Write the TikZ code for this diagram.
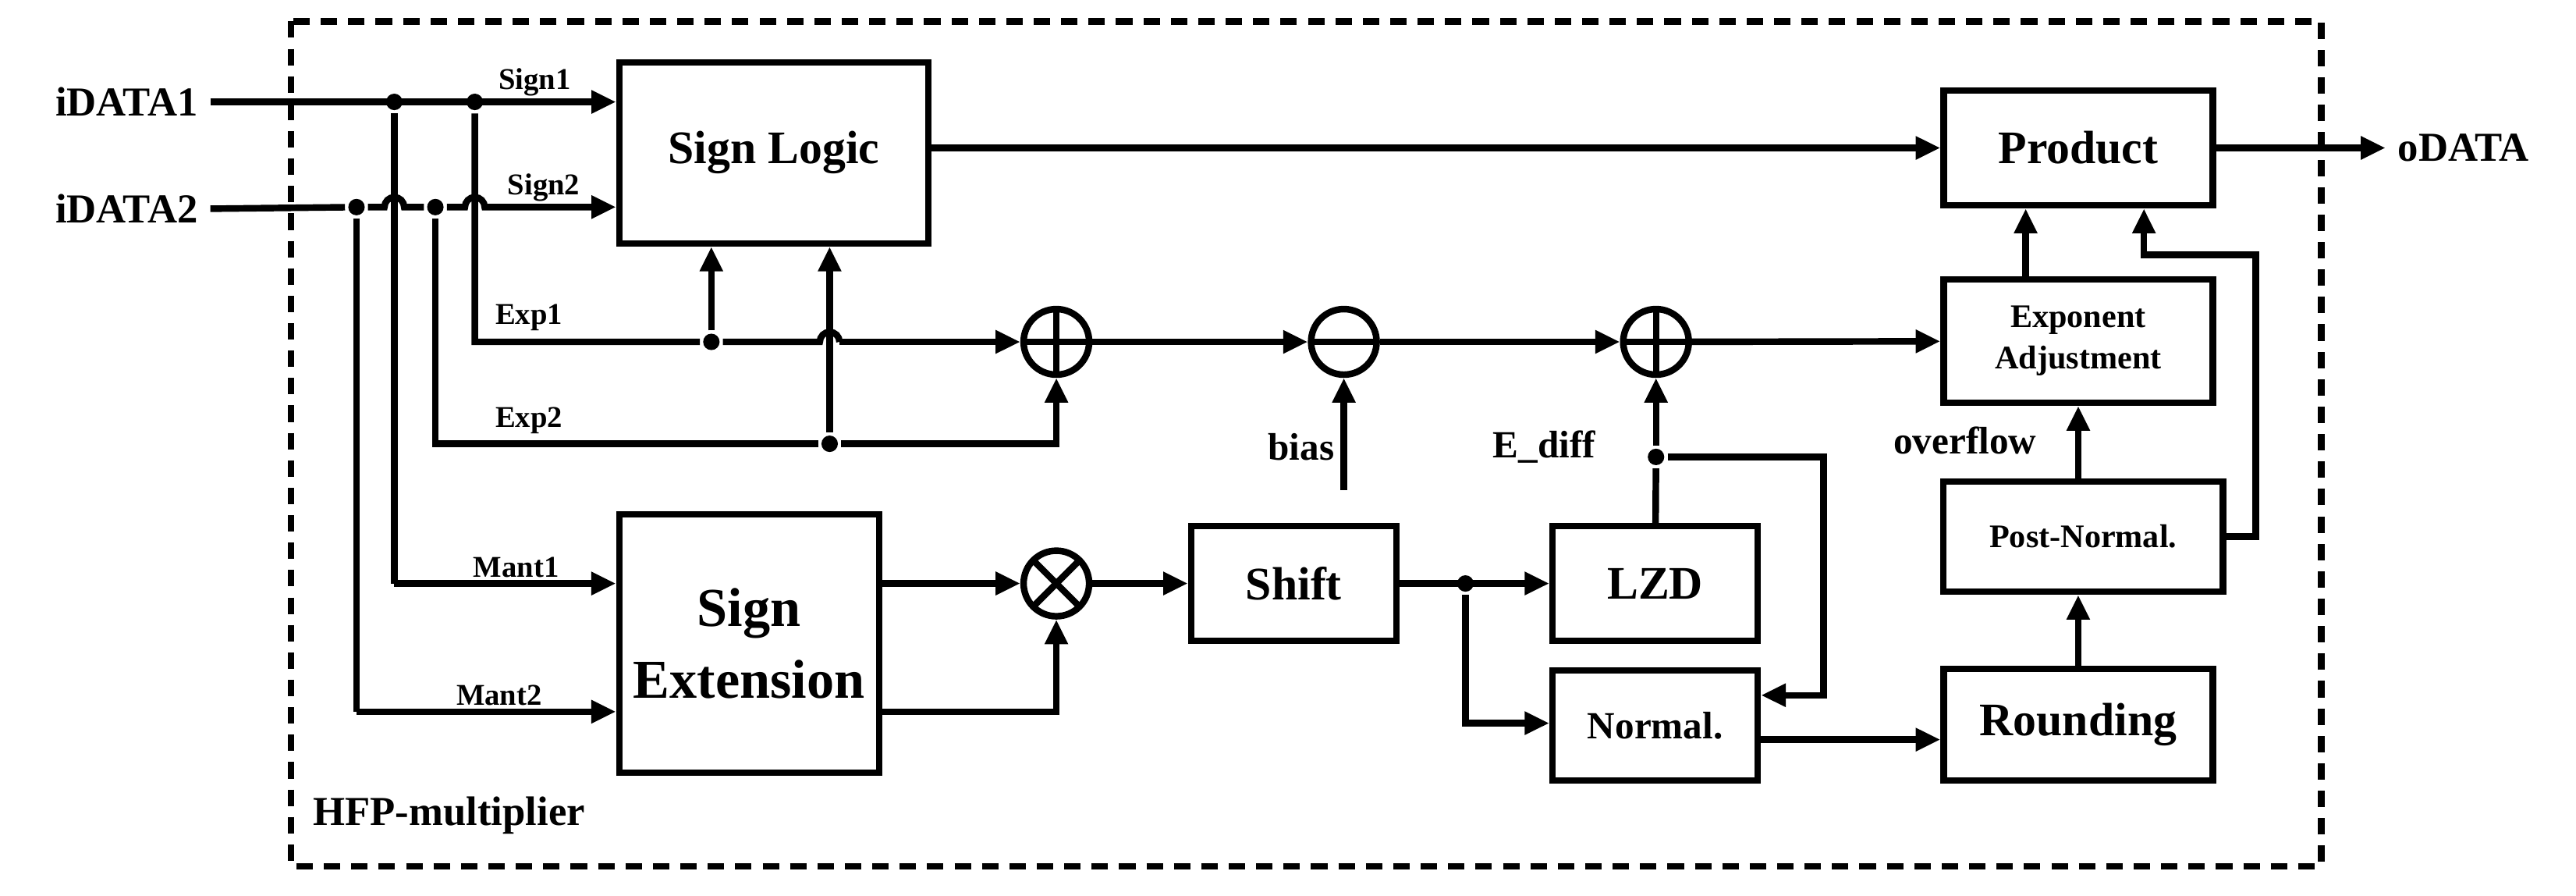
\documentclass[tikz,border=0pt]{standalone}
\usepackage{fontspec}
\setmainfont{Liberation Serif}
\usetikzlibrary{arrows.meta,calc}

\begin{document}
\begin{tikzpicture}
	[x=0.02106cm, y=-0.02106cm, line width=2.4pt, font=\bfseries,
	block/.style ={rectangle, draw=black, line width=2.4pt, align=center, inner sep=0pt},
	op/.style ={circle, draw=black, line width=2.4pt, minimum size=0.84cm, inner sep=0pt},
	plus/.style ={op, path picture={\draw[line width=2.4pt] (path picture bounding box.north) -- (path picture bounding box.south) (path picture bounding box.west) -- (path picture bounding box.east);}},
	minus/.style ={op, path picture={\draw[line width=2.4pt] (path picture bounding box.west) -- (path picture bounding box.east);}},
	times/.style ={op, path picture={\draw[line width=2.4pt] (path picture bounding box.north west) -- (path picture bounding box.south east) (path picture bounding box.north east) -- (path picture bounding box.south west);}},
	line/.style ={draw, line width=2.4pt, -{Triangle[length=9pt,width=8pt]}},
	dot/.style ={circle, fill=black, inner sep=0pt, minimum size=6pt},
	lbl/.style ={font=\fontsize{11}{11}\selectfont\bfseries, inner sep=1pt},
	big/.style ={font=\fontsize{17}{19}\selectfont\bfseries}]
	\useasboundingbox (0,0) rectangle (1568,545);
	\draw[dashed, dash pattern=on 6pt off 4pt] (177,13) rectangle (1413,527);
	\node[anchor=south west, font=\fontsize{15}{15}\selectfont\bfseries] (hfp) at (183,515) {HFP-multiplier};
	% blocks
	\draw (471,93) node[block, big, minimum width=3.96cm, minimum height=2.32cm] (sl) {Sign Logic};
	\draw (456,391.5) node[block, font=\fontsize{20}{26}\selectfont\bfseries, minimum width=3.33cm, minimum height=3.31cm] (se) {Sign\\Extension};
	\draw (787.5,355) node[block, big, minimum width=2.63cm, minimum height=1.47cm] (shift) {Shift};
	\draw (1007.5,355) node[block, big, minimum width=2.63cm, minimum height=1.47cm] (lzd) {LZD};
	\draw (1007.5,441.5) node[block, font=\fontsize{14}{14}\selectfont\bfseries, minimum width=2.63cm, minimum height=1.41cm] (norm) {Normal.};
	\draw (1265,90) node[block, big, minimum width=3.45cm, minimum height=1.47cm] (prod) {Product};
	\draw (1265,207.5) node[block, font=\fontsize{12}{15}\selectfont\bfseries, minimum width=3.45cm, minimum height=1.58cm] (expadj) {Exponent\\Adjustment};
	\draw (1268,326.5) node[block, font=\fontsize{12}{12}\selectfont\bfseries, minimum width=3.58cm, minimum height=1.41cm] (post) {Post-Normal.};
	\draw (1265,441) node[block, big, minimum width=3.45cm, minimum height=1.43cm] (round) {Rounding};
	\draw (643,208) node[plus] (add1) {};
	\draw (818,208) node[minus] (sub) {};
	\draw (1008,208) node[plus] (add2) {};
	\draw (643,355) node[times] (mul) {};
	% inputs and outputs
	\node[anchor=east, font=\fontsize{15}{15}\selectfont\bfseries] (in1) at (128,62) {iDATA1};
	\node[anchor=east, font=\fontsize{15}{15}\selectfont\bfseries] (in2) at (128,127) {iDATA2};
	\node[anchor=west, font=\fontsize{15}{15}\selectfont\bfseries] (out) at (1452,90) {oDATA};
	\node[font=\fontsize{14}{14}\selectfont\bfseries] (bias) at (792,272) {bias};
	\node[font=\fontsize{14}{14}\selectfont\bfseries] (ediff) at (940,272) {E\_diff};
	\node[font=\fontsize{14}{14}\selectfont\bfseries] (ovf) at (1196,268) {overflow};
	\coordinate (biasin) at (818,298);
	% junctions
	\draw (240,62) node[dot] (j1) {};
	\draw (289,62) node[dot] (j2) {};
	\draw (217,126) node[dot] (j3) {};
	\draw (265,126) node[dot] (j4) {};
	\draw (433,208) node[dot] (j5) {};
	\draw (505,270) node[dot] (j6) {};
	\draw (892,355) node[dot] (j7) {};
	\draw (1008,278) node[dot] (j8) {};
	% input wires
	\draw[line] (in1.east) -- (sl.west |- j1) node[lbl, pos=0.8, above] {Sign1};
	\draw[line] (in2.east) -- (j3) -- (234,126) arc (180:0:3.6pt) -- (j4) -- (283,126) arc (180:0:3.6pt) -- (sl.west |- j4) node[lbl, pos=0.45, above] {Sign2};
	\draw (j1) -- (240,355);
	\draw[line] (240,355) -- (se.west |- 240,355) node[lbl, pos=0.55, above] {Mant1};
	\draw (j3) -- (217,433);
	\draw[line] (217,433) -- (se.west |- 217,433) node[lbl, pos=0.55, above] {Mant2};
	\draw (j2) -- (289,208) -- (j5) -- (499,208) arc (180:0:3.6pt);
	\draw[line] (511,208) -- (add1);
	\node[lbl] (e1) at (322,193) {Exp1};
	\draw (j4) -- (265,270) -- (j6);
	\draw[line] (j6) -- (643,270) -- (add1);
	\node[lbl] (e2) at (322,256) {Exp2};
	\draw[line] (j5) -- (sl.south -| j5);
	\draw[line] (j6) -- (sl.south -| j6);
	% datapath
	\draw[line] (sl.east |- prod) -- (prod);
	\draw[line] (prod) -- (out.west);
	\draw[line] (add1) -- (sub);
	\draw[line] (biasin) -- (sub);
	\draw[line] (sub) -- (add2);
	\draw[line] (add2) -- (expadj);
	\draw[line] (se.east |- mul) -- (mul);
	\draw[line] (se.east |- 0,433) -- (643,433) -- (mul);
	\draw[line] (mul) -- (shift);
	\draw[line] (shift) -- (lzd);
	\draw[line] (j7) -- (892,440) -- (norm.west |- 0,440);
	\draw (lzd) -- (j8);
	\draw[line] (j8) -- (add2);
	\draw[line] (j8) -- (1110,278) -- (1110,423) -- (norm.east |- 0,423);
	\draw[line] (norm.east |- 0,450) -- (round.west |- 0,450);
	\draw[line] (round.north -| 1265,0) -- (post.south -| 1265,0);
	\draw[line] (post.north -| 1265,0) -- (expadj.south -| 1265,0);
	\draw[line] (expadj.north -| 1233,0) -- (prod.south -| 1233,0);
	\draw[line] (post.east) -- (1373,326.5) -- (1373,155) -- (1305,155) -- (prod.south -| 1305,0);
\end{tikzpicture}
\end{document}
